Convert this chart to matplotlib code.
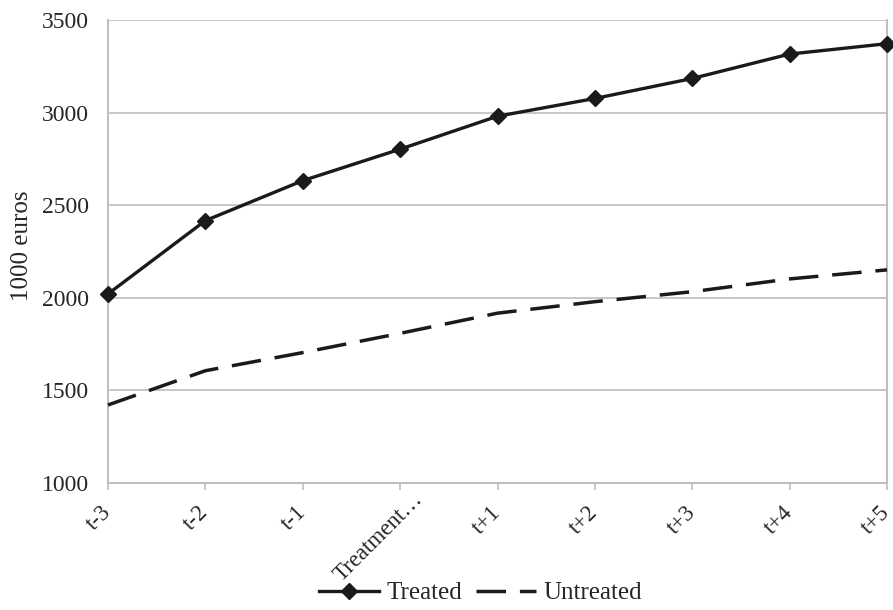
import matplotlib
matplotlib.use('Agg')
import matplotlib.pyplot as plt
import matplotlib.transforms as mtransforms

# Data
periods = ['t-3', 't-2', 't-1', 'Treatment…', 't+1', 't+2', 't+3', 't+4', 't+5']
treated = [2020, 2416, 2632, 2802, 2980, 3076, 3184, 3316, 3372]
untreated = [1420, 1605, 1703, 1807, 1916, 1978, 2032, 2101, 2150]
y_ticks = [1000, 1500, 2000, 2500, 3000, 3500]

GRID = '#BEBEBE'
TEXT = '#262626'
LINE = '#1A1A1A'

plt.rcParams['font.family'] = ['Liberation Serif', 'DejaVu Serif']

fig = plt.figure(figsize=(8.93, 6.10), dpi=100)
ax = fig.add_axes([108 / 893, 1 - 482.7 / 610, (887 - 108) / 893, (482.7 - 20) / 610])

x = list(range(len(periods)))
ax.plot(x, treated, color=LINE, linewidth=2.4, marker='D', markersize=8,
        label='Treated', clip_on=False, zorder=3)
ax.plot(x, untreated, color=LINE, linewidth=2.5, linestyle=(0, (8.5, 4)),
        label='Untreated', clip_on=False, zorder=3)

ax.set_xlim(0, len(periods) - 1)
ax.set_ylim(1000, 3500)
ax.set_yticks(y_ticks)
ax.set_xticks(x)
ax.set_xticklabels(periods, rotation=45, ha='right', va='center',
                   rotation_mode='anchor', fontsize=16.5, color=TEXT)
ax.tick_params(axis='y', length=0, labelsize=17, labelcolor=TEXT, pad=14)
ax.tick_params(axis='x', length=5, width=1.2, color=GRID, pad=14)

# the long truncated label sits a little further right/up in the reference
lbl = ax.get_xticklabels()[3]
lbl.set_transform(lbl.get_transform() + mtransforms.ScaledTranslation(14 / 72, 9 / 72, fig.dpi_scale_trans))

ax.yaxis.grid(True, color=GRID, linewidth=1.2)
ax.set_axisbelow(True)
for side in ['left', 'bottom', 'right']:
    ax.spines[side].set_color(GRID)
    ax.spines[side].set_linewidth(1.4)
ax.spines['top'].set_visible(False)

ax.set_ylabel('1000 euros', fontsize=18, color=TEXT)
ax.yaxis.set_label_coords(-0.096, 0.512)

fig.legend(loc='center', bbox_to_anchor=(481 / 893, 1 - 593 / 610), ncol=2,
           frameon=False, fontsize=18, handlelength=2.4, columnspacing=0.55,
           handletextpad=0.3, labelcolor=TEXT)

fig.savefig('out.png', dpi=100, facecolor='white')
